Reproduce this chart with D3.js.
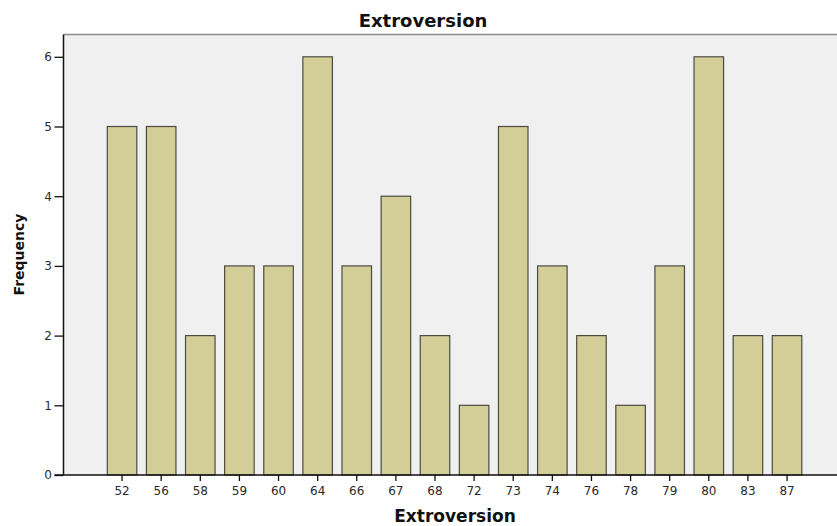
<!DOCTYPE html>
<html>
<head>
<meta charset="utf-8">
<script src="https://cdn.jsdelivr.net/npm/d3@7/dist/d3.min.js"></script>
<style>
  body { margin: 0; background: #fff; }
  svg { display: block; }
</style>
</head>
<body>
<svg></svg>
<script>
// data
const scores = ["52","56","58","59","60","64","66","67","68","72","73","74","76","78","79","80","83","87"];
const counts = [5, 5, 2, 3, 3, 6, 3, 4, 2, 1, 5, 3, 2, 1, 3, 6, 2, 2];
const yTicks = [0, 1, 2, 3, 4, 5, 6];

const w = 837, h = 526;
const plot = { left: 63.5, right: 837, top: 34.5, bottom: 475 };

const svg = d3.select("svg").attr("width", w).attr("height", h);

const xScale = d3.scaleBand()
    .domain(scores)
    .range([102.5, 806.6])
    .paddingInner(0.245)
    .paddingOuter(0.1225);

const yScale = d3.scaleLinear()
    .domain([0, 6.32])
    .range([plot.bottom, plot.top]);

// grey plot background
svg.append("rect")
  .attr("x", plot.left)
  .attr("y", plot.top)
  .attr("width", plot.right - plot.left)
  .attr("height", plot.bottom - plot.top)
  .attr("fill", "#f0f0f0");

// top frame line
svg.append("line")
  .attr("x1", plot.left).attr("x2", plot.right)
  .attr("y1", plot.top).attr("y2", plot.top)
  .attr("stroke", "#8a8a8a")
  .attr("stroke-width", 1.5);

// bars
svg.selectAll("rect.bar")
  .data(scores)
  .enter()
  .append("rect")
  .attr("class", "bar")
  .attr("x", function(d){ return xScale(d); })
  .attr("y", function(d, i){ return yScale(counts[i]); })
  .attr("width", xScale.bandwidth())
  .attr("height", function(d, i){ return plot.bottom - yScale(counts[i]); })
  .attr("fill", "#d3ce97")
  .attr("stroke", "#4b4b44")
  .attr("stroke-width", 1.2);

// y axis
const yAxisG = svg.append("g")
  .attr("transform", `translate(${plot.left},0)`)
  .call(d3.axisLeft(yScale).tickValues(yTicks).tickFormat(d3.format("d")).tickSize(9).tickPadding(2.5));
yAxisG.select(".domain").remove();

// x axis
const xAxisG = svg.append("g")
  .attr("transform", `translate(0,${plot.bottom})`)
  .call(d3.axisBottom(xScale).tickSize(6).tickPadding(5));
xAxisG.select(".domain").remove();

svg.selectAll(".tick line").attr("stroke", "#111").attr("stroke-width", 1.3);
svg.selectAll(".tick text")
  .style("font-family", "DejaVu Sans, sans-serif")
  .style("font-size", "12px")
  .attr("fill", "#2a2a2a");

// axis lines
svg.append("line")
  .attr("x1", plot.left).attr("x2", plot.left)
  .attr("y1", plot.top).attr("y2", plot.bottom)
  .attr("stroke", "#111").attr("stroke-width", 1.5);
svg.append("line")
  .attr("x1", plot.left - 9).attr("x2", plot.right)
  .attr("y1", plot.bottom).attr("y2", plot.bottom)
  .attr("stroke", "#111").attr("stroke-width", 1.5);

// titles
svg.append("text")
  .text("Extroversion")
  .attr("x", 423)
  .attr("y", 26.7)
  .attr("text-anchor", "middle")
  .style("font-family", "DejaVu Sans, sans-serif")
  .style("font-weight", "bold")
  .style("font-size", "18px")
  .attr("fill", "#111");

svg.append("text")
  .text("Extroversion")
  .attr("x", 455)
  .attr("y", 522.3)
  .attr("text-anchor", "middle")
  .style("font-family", "DejaVu Sans, sans-serif")
  .style("font-weight", "bold")
  .style("font-size", "17px")
  .attr("fill", "#111");

svg.append("text")
  .text("Frequency")
  .attr("transform", "translate(23.5,254.5)rotate(-90)")
  .attr("text-anchor", "middle")
  .style("font-family", "DejaVu Sans, sans-serif")
  .style("font-weight", "bold")
  .style("font-size", "14px")
  .attr("fill", "#111");
</script>
</body>
</html>
